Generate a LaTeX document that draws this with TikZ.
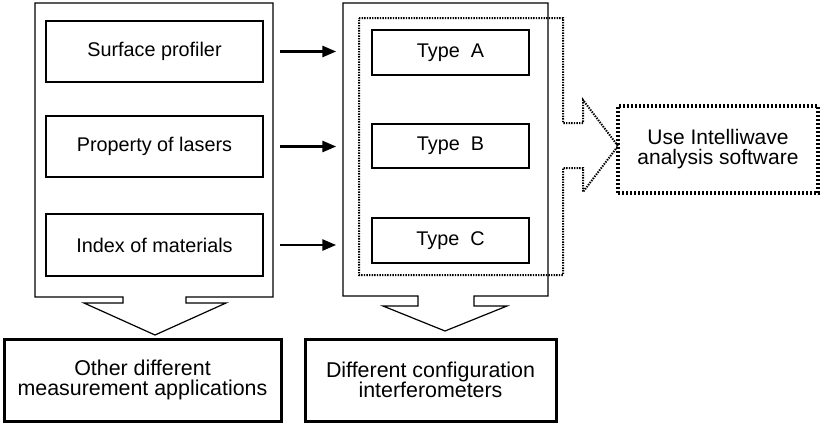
\documentclass[tikz,border=0pt]{standalone}
\usepackage{fontspec}
\setmainfont{Liberation Sans}
\usetikzlibrary{arrows.meta}

\begin{document}
\begin{tikzpicture}[x=0.5pt,y=-0.5pt,
	inbox/.style={draw,line width=0.75pt,minimum height=#1,inner sep=0pt,font=\fontsize{9.9}{12}\selectfont},
	appbox/.style={draw,line width=1.5pt,minimum width=#1,minimum height=41pt,inner sep=0pt,align=center,font=\fontsize{10.7}{10.2}\selectfont},
	panel/.style={draw,line width=0.6pt,line join=miter},
	feed/.style={line width=1.4pt,-{Triangle[length=7pt,width=5.5pt]},shorten <=8pt,shorten >=17.5pt},
	]
	\useasboundingbox (0,0) rectangle (820,424);
	\draw[panel] (123,297) -- (35,297) -- (35,3) -- (273,3) -- (273,297) -- (186,297) -- (186,303) -- (226,303) -- (155,335) -- (84,303) -- (123,303) -- cycle;
	\draw[panel] (418,296) -- (343,296) -- (343,3) -- (548,3) -- (548,296) -- (474,296) -- (474,306) -- (507,306) -- (445,331) -- (383,306) -- (418,306) -- cycle;
	\draw[line width=1pt,dash pattern=on 0.7pt off 0.6pt] (359,18) -- (563,18) -- (563,123) -- (583,123) -- (583,100) -- (618,146) -- (583,192) -- (583,168) -- (563,168) -- (563,275) -- (359,275) -- cycle;

	\node[inbox=30.5pt,minimum width=108.5pt] (surf) at (154.5,51.5) {Surface profiler};
	\node[inbox=30.5pt,minimum width=108.5pt] (laser) at (154.5,146.5) {Property of lasers};
	\node[inbox=31pt,minimum width=108.5pt] (index) at (154.5,245) {Index of materials};
	\node[inbox=22.5pt,minimum width=78.5pt] (typeA) at (450.5,52.5) {Type~~A};
	\node[inbox=22pt,minimum width=78.5pt] (typeB) at (450.5,146) {Type~~B};
	\node[inbox=22.5pt,minimum width=78.5pt] (typeC) at (450.5,240.5) {Type~~C};

	\draw[feed] (surf.east) -- (surf.east -| typeA.west);
	\draw[feed] (laser.east) -- (laser.east -| typeB.west);
	\draw[feed] (index.east) -- (index.east -| typeC.west);

	\node[draw,line width=1.6pt,dash pattern=on 1.1pt off 0.9pt,minimum width=100pt,minimum height=43.5pt,inner sep=0pt,align=center,font=\fontsize{10.5}{10}\selectfont] (soft) at (718,149.5) {Use Intelliwave\\analysis software};
	\node[appbox=138.5pt] (other) at (142.5,380) {Other different\\measurement applications};
	\node[appbox=125.5pt] (config) at (430.5,380) {Different configuration\\interferometers};
\end{tikzpicture}
\end{document}
